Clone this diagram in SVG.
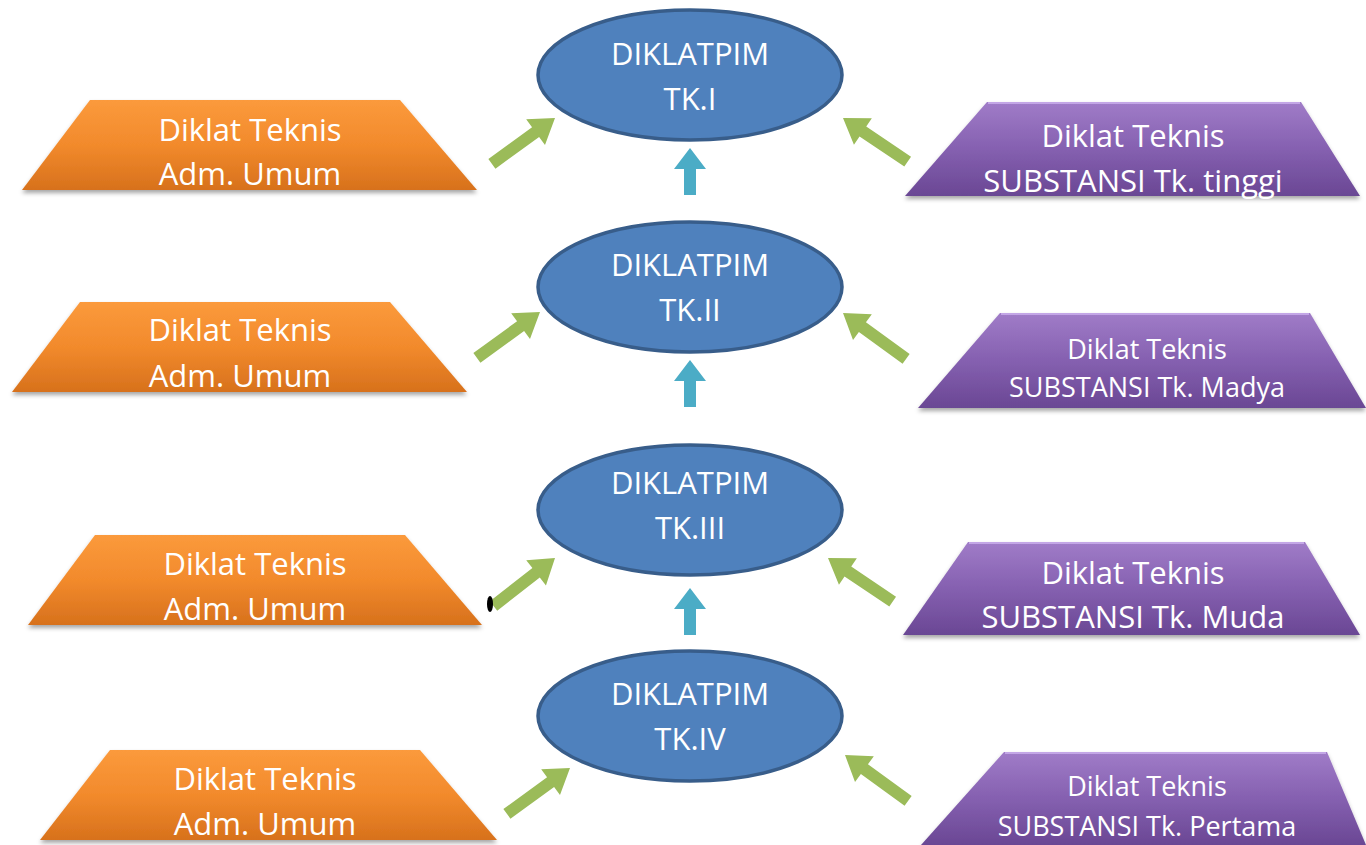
<svg xmlns="http://www.w3.org/2000/svg" width="1366" height="845" viewBox="0 0 1366 845">
<defs>
<linearGradient id="gOr" x1="0" y1="0" x2="0" y2="1">
<stop offset="0" stop-color="#FB9A3C"/><stop offset="0.5" stop-color="#F28A2C"/><stop offset="1" stop-color="#D7711C"/>
</linearGradient>
<linearGradient id="gPu" x1="0" y1="0" x2="0" y2="1">
<stop offset="0" stop-color="#A07CC8"/><stop offset="0.5" stop-color="#8560B0"/><stop offset="1" stop-color="#6A4794"/>
</linearGradient>
<filter id="sh" x="-10%" y="-10%" width="120%" height="130%">
<feDropShadow dx="0" dy="3" stdDeviation="2" flood-color="#000" flood-opacity="0.35"/>
</filter>
<path id="ga" d="M0,0 L-24,-16 L-24,-6 L-78,-6 L-78,6 L-24,6 L-24,16 Z"/>
<path id="ba" d="M0,0 L-21,-16 L-21,-6 L-47,-6 L-47,6 L-21,6 L-21,16 Z"/>
<style>
.or{fill:url(#gOr);filter:url(#sh)}
.pu{fill:url(#gPu);filter:url(#sh)}
.pe{fill:none;stroke:#C3A6E6;stroke-width:2}
.el{fill:#4F81BD;stroke:#385D8A;stroke-width:3.5}
.t{font-family:"Open Sans","Liberation Sans",sans-serif;fill:#fff;text-anchor:middle;font-size:31px}
.s{font-size:27px}
.g{fill:#9BBB59}
.b{fill:#4BACC6}
</style>
</defs>

<g id="connectors">
<use href="#ga" class="g" transform="translate(555,118) rotate(-36)"/>
<use href="#ga" class="g" transform="translate(843,118) rotate(-146)"/>
<use href="#ga" class="g" transform="translate(540,312) rotate(-36)"/>
<use href="#ga" class="g" transform="translate(843,313) rotate(-144)"/>
<use href="#ga" class="g" transform="translate(555,558) rotate(-38)"/>
<use href="#ga" class="g" transform="translate(828,558) rotate(-146)"/>
<use href="#ga" class="g" transform="translate(570,768) rotate(-36)"/>
<use href="#ga" class="g" transform="translate(845,755) rotate(-144)"/>
<use href="#ba" class="b" transform="translate(690,148) rotate(-90)"/>
<use href="#ba" class="b" transform="translate(690,360) rotate(-90)"/>
<use href="#ba" class="b" transform="translate(690,588) rotate(-90)"/>
<ellipse cx="490" cy="604" rx="3" ry="8" fill="#000"/>
</g>

<g id="tk1">
<ellipse class="el" cx="690" cy="75" rx="152" ry="65"/>
<text class="t" x="690" y="65">DIKLATPIM</text>
<text class="t" x="690" y="110">TK.I</text>
</g>
<g id="tk2">
<ellipse class="el" cx="690" cy="287" rx="152" ry="65"/>
<text class="t" x="690" y="276">DIKLATPIM</text>
<text class="t" x="690" y="321">TK.II</text>
</g>
<g id="tk3">
<ellipse class="el" cx="690" cy="510" rx="152" ry="65"/>
<text class="t" x="690" y="494">DIKLATPIM</text>
<text class="t" x="690" y="539">TK.III</text>
</g>
<g id="tk4">
<ellipse class="el" cx="690" cy="716" rx="152" ry="65"/>
<text class="t" x="690" y="705">DIKLATPIM</text>
<text class="t" x="690" y="750">TK.IV</text>
</g>

<g id="adm1">
<polygon class="or" points="90,100 400,100 477,190 22,190"/>
<text class="t" x="250" y="141">Diklat Teknis</text>
<text class="t" x="250" y="185">Adm. Umum</text>
</g>
<g id="adm2">
<polygon class="or" points="80,302 390,302 467,392 12,392"/>
<text class="t" x="240" y="341">Diklat Teknis</text>
<text class="t" x="240" y="387">Adm. Umum</text>
</g>
<g id="adm3">
<polygon class="or" points="95,535 405,535 482,625 28,625"/>
<text class="t" x="255" y="575">Diklat Teknis</text>
<text class="t" x="255" y="620">Adm. Umum</text>
</g>
<g id="adm4">
<polygon class="or" points="110,750 420,750 497,840 40,840"/>
<text class="t" x="265" y="790">Diklat Teknis</text>
<text class="t" x="265" y="835">Adm. Umum</text>
</g>

<g id="sub1">
<polygon class="pu" points="987,102 1301,102 1360,196 905,196"/>
<line class="pe" x1="988" y1="103" x2="1300" y2="103"/>
<text class="t" x="1133" y="147">Diklat Teknis</text>
<text class="t" x="1133" y="192">SUBSTANSI Tk. tinggi</text>
</g>
<g id="sub2">
<polygon class="pu" points="1000,313 1310,313 1366,408 918,408"/>
<line class="pe" x1="1001" y1="314" x2="1309" y2="314"/>
<text class="t s" x="1147" y="359">Diklat Teknis</text>
<text class="t s" x="1147" y="397">SUBSTANSI Tk. Madya</text>
</g>
<g id="sub3">
<polygon class="pu" points="968,542 1305,542 1360,635 903,635"/>
<line class="pe" x1="969" y1="543" x2="1304" y2="543"/>
<text class="t" x="1133" y="584">Diklat Teknis</text>
<text class="t" x="1133" y="628">SUBSTANSI Tk. Muda</text>
</g>
<g id="sub4">
<polygon class="pu" points="1004,752 1327,752 1366,845 921,845"/>
<line class="pe" x1="1005" y1="753" x2="1326" y2="753"/>
<text class="t s" x="1147" y="796">Diklat Teknis</text>
<text class="t s" x="1147" y="836">SUBSTANSI Tk. Pertama</text>
</g>
</svg>
